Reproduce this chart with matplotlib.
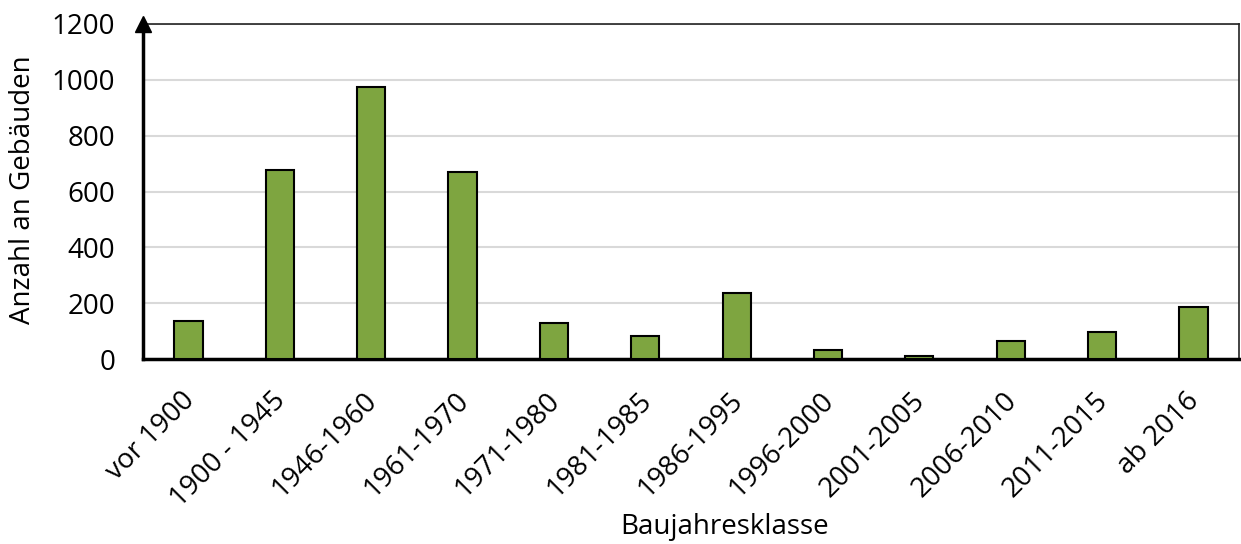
import matplotlib
matplotlib.use('Agg')
import matplotlib.pyplot as plt
import matplotlib.transforms as mtransforms
import numpy as np

categories = ['vor 1900', '1900 - 1945', '1946-1960', '1961-1970', '1971-1980',
              '1981-1985', '1986-1995', '1996-2000', '2001-2005', '2006-2010',
              '2011-2015', 'ab 2016']
counts = [138, 677, 975, 670, 129, 83, 236, 34, 12, 63, 97, 188]

plt.rcParams['font.family'] = ['Open Sans', 'DejaVu Sans']
plt.rcParams['font.size'] = 20

fig = plt.figure(figsize=(12.41, 5.44), dpi=100)
ax = fig.add_axes([0.1152, 0.340, 0.8832, 0.6159])

x = np.arange(len(categories))
ax.bar(x, counts, width=0.31, color='#7ea540', edgecolor='black', linewidth=1.5, zorder=3)

ax.set_xlim(-0.5, len(categories) - 0.5)
ax.set_ylim(0, 1200)
ax.set_yticks(range(0, 1201, 200))
ax.yaxis.grid(True, color='#d9d9d9', linewidth=1.5, zorder=0)
ax.set_axisbelow(True)

ax.set_xticks(x)
ax.set_xticklabels(categories, rotation=45, ha='right', rotation_mode='anchor')
ax.tick_params(axis='both', length=0)
ax.tick_params(axis='x', pad=20)
ax.tick_params(axis='y', pad=20)

# nudge the rotated labels a little to the left
shift = mtransforms.ScaledTranslation(-0.08, 0, fig.dpi_scale_trans)
for lbl in ax.get_xticklabels():
    lbl.set_transform(lbl.get_transform() + shift)

for s in ['top', 'right']:
    ax.spines[s].set_color('#222222')
    ax.spines[s].set_linewidth(1.2)
ax.spines['left'].set_linewidth(2.5)
ax.spines['bottom'].set_linewidth(2.5)
ax.spines['left'].set_color('black')
ax.spines['bottom'].set_color('black')

# arrow head on the y axis
ax.plot(0, 1, marker='^', color='black', markersize=11, transform=ax.transAxes,
        clip_on=False, zorder=5)

ax.set_ylabel('Anzahl an Gebäuden', va='center')
ax.yaxis.set_label_coords(-0.1095, 0.504)
ax.set_xlabel('Baujahresklasse', va='center')
ax.xaxis.set_label_coords(0.531, -0.50)

fig.savefig('out.png', dpi=100)
